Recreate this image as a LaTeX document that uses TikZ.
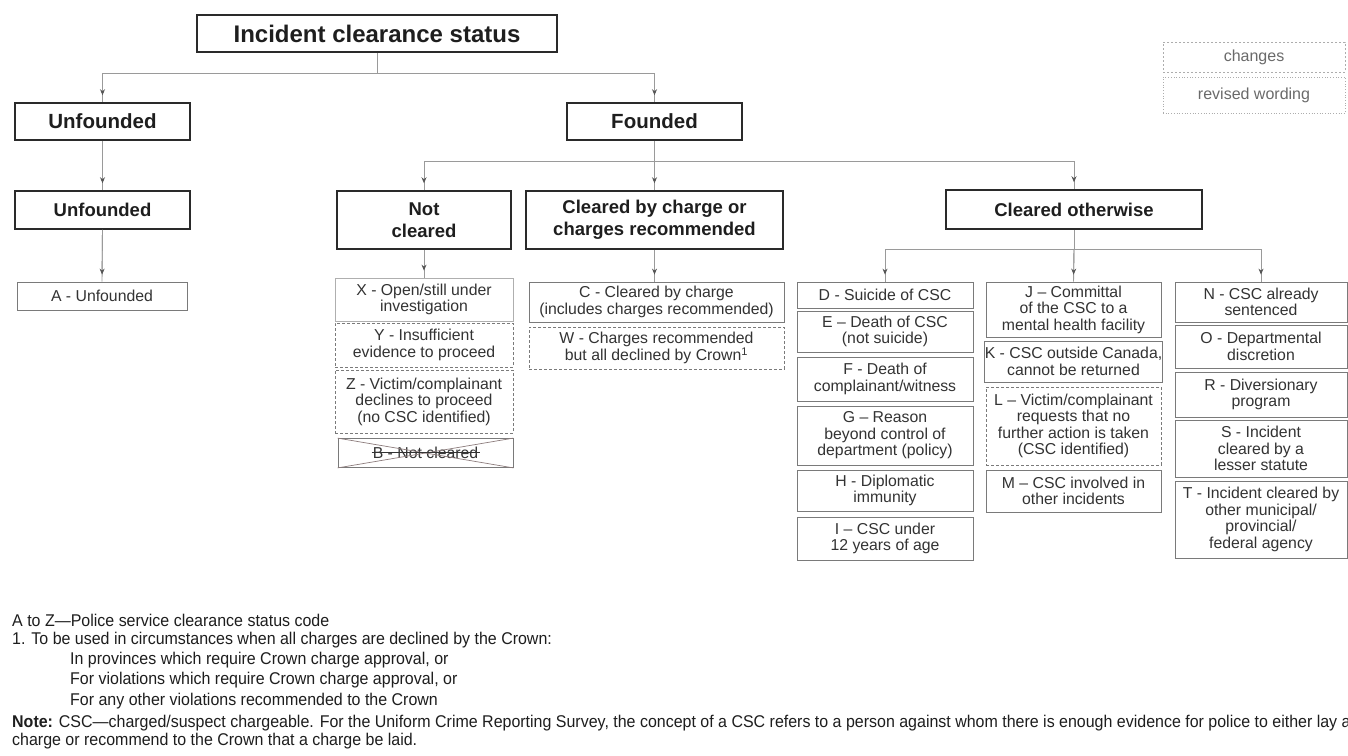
\documentclass[tikz,border=0pt]{standalone}
\usepackage{fontspec}
\setmainfont{Liberation Sans}
\newfontfamily\condfont[FakeStretch=0.94]{Liberation Sans}
\usetikzlibrary{arrows.meta}
\definecolor{boxdark}{HTML}{2A2A2A}
\definecolor{boxgray}{HTML}{7A7A7A}
\definecolor{linegray}{HTML}{9A9A9A}
\definecolor{arrowgray}{HTML}{555555}
\definecolor{txtdark}{HTML}{1E1E1E}
\definecolor{txtgray}{HTML}{333333}
\definecolor{strikecol}{HTML}{8C7C7C}
\definecolor{legendgray}{HTML}{8A8A8A}
\definecolor{legendtext}{HTML}{6A6A6A}
\begin{document}
\begin{tikzpicture}[x=1pt,y=-1pt,
  mainbox/.style={draw=boxdark, line width=1.5pt, text=txtdark, align=center, inner sep=0pt},
  topbox/.style={mainbox, font=\fontsize{24}{28}\selectfont\bfseries},
  lvlone/.style={mainbox, font=\fontsize{20.5}{24}\selectfont\bfseries},
  lvltwo/.style={mainbox, font=\fontsize{18.5}{22}\selectfont\bfseries},
  codebox/.style={draw=boxgray, line width=0.8pt, text=txtgray, align=center, inner sep=0pt, font=\fontsize{15.8}{16.5}\selectfont},
  changebox/.style={codebox, dash pattern=on 3pt off 2pt},
  conn/.style={draw=linegray, line width=0.9pt},
  arr/.style={conn, -{Stealth[length=6pt,width=5pt,color=arrowgray]}, shorten >=7pt},
  foot/.style={anchor=base west, inner sep=0pt, text=txtdark, font=\condfont\fontsize{17}{20}\selectfont},
  legtext/.style={text=legendtext, font=\fontsize{16}{18}\selectfont},
]
\useasboundingbox (0,0) rectangle (1348,755);
\begin{scope}
\clip (0,0) rectangle (1348,755);
\fill[white] (0,0) rectangle (1348,755);

% top levels
\node[topbox, minimum width=360pt, minimum height=37pt] (title) at (377,33.5) {Incident clearance status};
\node[lvlone, minimum width=175pt, minimum height=37pt] (unf1) at (102.5,121.5) {Unfounded};
\node[lvlone, minimum width=175pt, minimum height=37pt] (fnd) at (654.5,121.5) {Founded};
\node[lvltwo, minimum width=175pt, minimum height=38pt] (unf2) at (102.5,210) {Unfounded};
\node[lvltwo, minimum width=174pt, minimum height=58pt] (notcl) at (424,220) {Not\\cleared};
\node[lvltwo, minimum width=257pt, minimum height=58pt] (clchg) at (654.5,220) {Cleared by charge or\\charges recommended};
\node[lvltwo, minimum width=256pt, minimum height=39pt] (cloth) at (1074,209.5) {Cleared otherwise};

% code boxes
\node[codebox, minimum width=170pt, minimum height=28pt] (A) at (102,296) {A - Unfounded};

\node[codebox, draw=boxgray!60, minimum width=178pt, minimum height=43pt] (X) at (424,299.5) {X - Open/still under\\investigation};
\node[changebox, minimum width=178pt, minimum height=44pt] (Y) at (424,345) {Y - Insufficient\\evidence to proceed};
\node[changebox, minimum width=178pt, minimum height=63pt] (Z) at (424,401.5) {Z - Victim/complainant\\declines to proceed\\(no CSC identified)};
\node[codebox, minimum width=175pt, minimum height=29pt] (B) at (425.5,453) {B - Not cleared};
\draw[strikecol, line width=0.7pt] (B.north west) -- (B.south east);
\draw[strikecol, line width=0.7pt] (B.south west) -- (B.north east);
\draw[txtgray, line width=0.9pt] ([xshift=-54pt,yshift=1pt]B.center) -- ([xshift=54pt,yshift=1pt]B.center);

\node[codebox, minimum width=255pt, minimum height=40pt] (C) at (656.5,302) {C - Cleared by charge\\(includes charges recommended)};
\node[changebox, minimum width=255pt, minimum height=42pt] (W) at (656.5,348) {W - Charges recommended\\but all declined by Crown\textsuperscript{1}};

\node[codebox, minimum width=176pt, minimum height=26pt] (D) at (885,295) {D - Suicide of CSC};
\node[codebox, minimum width=176pt, minimum height=41pt] (E) at (885,331.5) {E – Death of CSC\\(not suicide)};
\node[codebox, minimum width=176pt, minimum height=44pt] (F) at (885,379) {F - Death of\\complainant/witness};
\node[codebox, minimum width=176pt, minimum height=59pt] (G) at (885,435.5) {G – Reason\\beyond control of\\department (policy)};
\node[codebox, minimum width=176pt, minimum height=41pt] (H) at (885,490.5) {H - Diplomatic\\immunity};
\node[codebox, minimum width=176pt, minimum height=43pt] (I) at (885,538.5) {I – CSC under\\12 years of age};

\node[codebox, minimum width=175pt, minimum height=55pt] (J) at (1073.5,309.5) {J – Committal\\of the CSC to a\\mental health facility};
\node[codebox, minimum width=175pt, minimum height=41pt] (K) at (1073.5,361.5) {K - CSC outside Canada,\\cannot be returned};
\node[changebox, minimum width=175pt, minimum height=78pt] (L) at (1073.5,426) {L – Victim/complainant\\requests that no\\further action is taken\\(CSC identified)};
\node[codebox, minimum width=175pt, minimum height=42pt] (M) at (1073.5,491) {M – CSC involved in\\other incidents};

\node[codebox, minimum width=172pt, minimum height=40pt] (N) at (1261,302) {N - CSC already\\sentenced};
\node[codebox, minimum width=172pt, minimum height=43pt] (O) at (1261,346.5) {O - Departmental\\discretion};
\node[codebox, minimum width=172pt, minimum height=45pt] (R) at (1261,394.5) {R - Diversionary\\program};
\node[codebox, minimum width=172pt, minimum height=57pt] (S) at (1261,448.5) {S - Incident\\cleared by a\\lesser statute};
\node[codebox, minimum width=172pt, minimum height=77pt] (T) at (1261,519.5) {T - Incident cleared by\\other municipal/\\provincial/\\federal agency};

% connectors
\coordinate (j1) at (377,73);
\coordinate (j2) at (654.5,161);
\coordinate (j3) at (1074,249);
\draw[conn] (title.south) -- (j1);
\draw[conn] (j1) -| (unf1.north);
\draw[conn] (j1) -| (fnd.north);
\draw[arr] (j1) -| (unf1.north);
\draw[arr] (j1) -| (fnd.north);
\draw[conn] (unf1.south) -- (unf2.north);
\draw[arr] (unf1.south) -- (unf2.north);
\draw[conn] (unf2.south) -- (A.north);
\draw[arr] (unf2.south) -- (A.north);
\draw[conn] (fnd.south) -- (j2);
\draw[conn] (j2) -| (notcl.north);
\draw[conn] (j2) -- (clchg.north);
\draw[conn] (j2) -| (cloth.north);
\draw[arr] (j2) -| (notcl.north);
\draw[arr] (j2) -- (clchg.north);
\draw[arr] (j2) -| (cloth.north);
\draw[conn] (notcl.south) -- (X.north);
\draw[arr] (notcl.south) -- (X.north);
\draw[conn] (clchg.south) -- (clchg.south |- C.north);
\draw[arr] (clchg.south) -- (clchg.south |- C.north);
\draw[conn] (cloth.south) -- (j3);
\draw[conn] (j3) -| (D.north);
\draw[conn] (j3) -- (J.north);
\draw[conn] (j3) -| (N.north);
\draw[arr] (j3) -| (D.north);
\draw[arr] (j3) -- (J.north);
\draw[arr] (j3) -| (N.north);

% legend
\node[draw=legendgray!70, dash pattern=on 2pt off 2pt, line width=0.7pt, minimum width=182pt, minimum height=30pt, inner sep=0pt, legtext] (legchg) at (1254,57) {changes};
\node[draw=legendgray!70, dotted, line width=0.7pt, minimum width=182pt, minimum height=36pt, inner sep=0pt, legtext] (legrev) at (1254,95) {revised wording};

% footer
\node[foot] (f1) at (12,626) {A to Z—Police service clearance status code};
\node[foot] (f2) at (12,644) {1. To be used in circumstances when all charges are declined by the Crown:};
\node[foot] (f3) at (70,664) {In provinces which require Crown charge approval, or};
\node[foot] (f4) at (70,684) {For violations which require Crown charge approval, or};
\node[foot] (f5) at (70,705) {For any other violations recommended to the Crown};
\node[foot] (f6) at (12,727) {\textbf{Note:} CSC—charged/suspect chargeable. For the Uniform Crime Reporting Survey, the concept of a CSC refers to a person against whom there is enough evidence for police to either lay a};
\node[foot] (f7) at (12,745) {charge or recommend to the Crown that a charge be laid.};
\end{scope}
\end{tikzpicture}
\end{document}
